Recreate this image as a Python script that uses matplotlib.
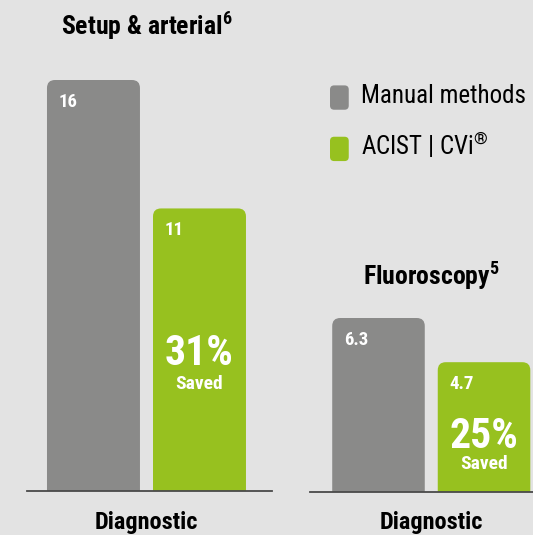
import matplotlib
matplotlib.use("Agg")
import matplotlib.pyplot as plt
from matplotlib import font_manager
from matplotlib.patches import FancyBboxPatch, Patch
from matplotlib.legend_handler import HandlerPatch

# --- DATE ---
series = ["Manual methods", "ACIST | CVi$^{®}$"]
panel_titles = ["Setup & arterial$^{\\mathbf{6}}$", "Fluoroscopy$^{\\mathbf{5}}$"]
panel_xlabel = "Diagnostic"
setup_values = [16, 11]
fluoro_values = [6.3, 4.7]
value_labels = [["16", "11"], ["6.3", "4.7"]]

GRAY = "#8a8a89"
GREEN = "#97c11f"
BG = "#e3e3e3"

# --- FONT ---
names = {f.name for f in font_manager.fontManager.ttflist}
FONT = "Roboto Condensed" if "Roboto Condensed" in names else "Liberation Sans"
plt.rcParams["font.family"] = [FONT, "DejaVu Sans"]
plt.rcParams["mathtext.fontset"] = "custom"
plt.rcParams["mathtext.rm"] = FONT
plt.rcParams["mathtext.bf"] = FONT + ":bold"
plt.rcParams["mathtext.default"] = "rm"

W, H = 533, 535
fig = plt.figure(figsize=(W / 100, H / 100), dpi=100, facecolor=BG)


def px_axes(x0, x1, y_top, y_base):
    return fig.add_axes([x0 / W, (H - y_base) / H, (x1 - x0) / W, (y_base - y_top) / H])


ax_l = px_axes(27, 272, 80, 491)
ax_r = px_axes(310, 533, 318, 492)


def rounded_bars(ax, values, xlim, radius_px=8):
    ax.set_xlim(*xlim)
    ax.set_ylim(0, max(values))
    bars = ax.bar([0, 1], values, width=0.877, color=[GRAY, GREEN])
    # raport unitati y / unitati x pe pixel
    p0 = ax.transData.transform((0, 0))
    p1 = ax.transData.transform((1, 1))
    ux = 1 / (p1[0] - p0[0])
    uy = 1 / (p1[1] - p0[1])
    r = radius_px * ux
    aspect = uy / ux
    for b in bars:
        x, y, w, h = b.get_x(), b.get_y(), b.get_width(), b.get_height()
        fb = FancyBboxPatch((x, y - 2 * r * aspect), w, h + 2 * r * aspect,
                            boxstyle=f"round,pad=0,rounding_size={r}",
                            mutation_aspect=aspect, facecolor=b.get_facecolor(),
                            edgecolor="none", zorder=2)
        ax.add_patch(fb)
        b.remove()
    for s in ["left", "right", "top"]:
        ax.spines[s].set_visible(False)
    ax.spines["bottom"].set_color("#4a4a4a")
    ax.spines["bottom"].set_linewidth(1.3)
    ax.spines["bottom"].set_zorder(3)
    ax.set_xticks([])
    ax.set_yticks([])
    ax.patch.set_alpha(0)
    return bars


# (axa, valori, xlim, etichete, titlu, offset titlu, offset procent, offset "Saved")
panels = [
    (ax_l, setup_values, (-0.627, 1.684), value_labels[0], panel_titles[0], 54, -4, -34),
    (ax_r, fluoro_values, (-0.649, 1.464), value_labels[1], panel_titles[1], 42, -9, -37),
]

for ax, vals, xlim, labels, title, title_off, pct_off, saved_off in panels:
    bars = rounded_bars(ax, vals, xlim)
    for b, lab in zip(bars, labels):
        ax.annotate(lab, (b.get_x(), b.get_height()), xytext=(12, -22),
                    textcoords="offset pixels", color="white", fontsize=13.5,
                    fontweight="bold", ha="left", va="center", zorder=4)
    pct = round((1 - vals[1] / vals[0]) * 100)
    ax.annotate(f"{pct}%", (1, vals[1] / 2), xytext=(0, pct_off), textcoords="offset pixels",
                color="white", fontsize=30, fontweight="bold", ha="center",
                va="center", zorder=4)
    ax.annotate("Saved", (1, vals[1] / 2), xytext=(0, saved_off), textcoords="offset pixels",
                color="white", fontsize=14, fontweight="bold", ha="center",
                va="center", zorder=4)
    ax.annotate(panel_xlabel, (0.5, 0), xycoords=("data", "axes fraction"),
                xytext=(0, -31), textcoords="offset pixels", color="black",
                fontsize=17.5, fontweight="bold", ha="center", va="center")
    ax.annotate(title, (0.5, 1), xycoords=("data", "axes fraction"),
                xytext=(0, title_off), textcoords="offset pixels", color="black",
                fontsize=18.5, fontweight="bold", ha="center", va="center")


# --- LEGENDA ---
def rounded_handle(legend, orig_handle, xdescent, ydescent, width, height, fontsize):
    return FancyBboxPatch((-xdescent, -ydescent - 3), width, height + 2,
                          boxstyle="round,pad=0,rounding_size=3")


handles = [Patch(facecolor=GRAY, label=series[0]), Patch(facecolor=GREEN, label=series[1])]
fig.legend(handles=handles, loc="upper left", bbox_to_anchor=(330 / W, 1 - 84 / H),
           frameon=False, fontsize=18, handlelength=0.75, handleheight=0.95,
           handletextpad=0.5, labelspacing=0.85, borderpad=0, borderaxespad=0,
           handler_map={Patch: HandlerPatch(patch_func=rounded_handle)})

fig.savefig("out.png", dpi=100, facecolor=BG)
